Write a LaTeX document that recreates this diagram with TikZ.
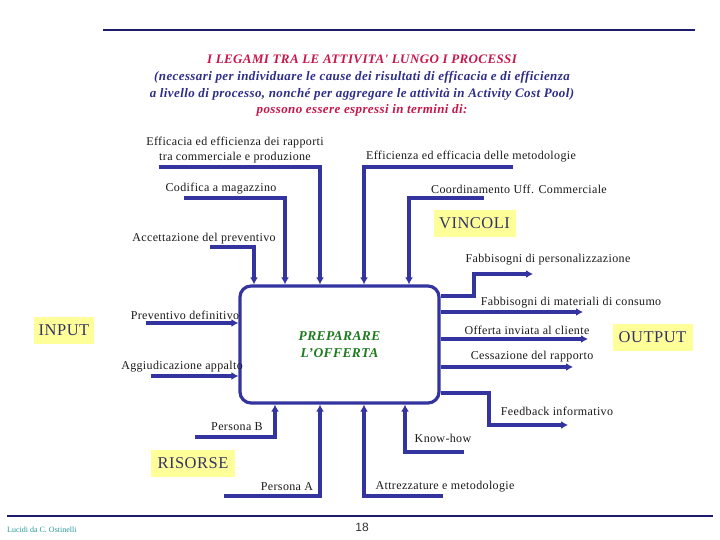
\documentclass[tikz,border=0pt]{standalone}
\usepackage{fontspec}
\setmainfont{Liberation Serif}
\newfontfamily\lblfont[LetterSpace=3]{Liberation Serif}
\newfontfamily\numfont{Liberation Sans}
\usetikzlibrary{arrows.meta}
\definecolor{linkblue}{HTML}{3434A0}
\definecolor{rulenavy}{HTML}{1C1C6E}
\definecolor{ttlred}{HTML}{C8174A}
\definecolor{ttlnavy}{HTML}{2E2E8A}
\definecolor{procgreen}{HTML}{1F7A1F}
\definecolor{tagyellow}{HTML}{FFFF99}
\definecolor{tagtext}{HTML}{333366}
\definecolor{lbltext}{HTML}{1A1A1A}
\definecolor{footteal}{HTML}{2A9A9A}

\begin{document}
\begin{tikzpicture}[x=1pt, y=-1pt,
  lbl/.style={font=\lblfont\fontsize{12}{15}\selectfont, text=lbltext, inner sep=0pt, align=center},
  tag/.style={fill=tagyellow, font=\lblfont\fontsize{16.5}{18}\selectfont, text=tagtext,
              minimum height=27pt, inner sep=0pt},
  proc/.style={draw=linkblue, line width=3.2pt, rounded corners=11pt, minimum width=199pt,
               minimum height=117pt, align=center, text=procgreen,
               font=\lblfont\bfseries\itshape\fontsize{13.5}{17}\selectfont},
  link/.style={draw=linkblue, line width=3.2pt},
  arr/.style={link, -{Latex[length=7pt,width=8pt]}},
  rule/.style={draw=rulenavy, line width=2.8pt}
]
  \fill[white] (0,0) rectangle (720,540);
  \useasboundingbox (0,0) rectangle (720,540);

  % Rules
  \coordinate (topL) at (103,30);
  \coordinate (topR) at (695,30);
  \coordinate (botL) at (7,516);
  \coordinate (botR) at (713,516);
  \draw[rule] (topL) -- (topR);
  \draw[rule] (botL) -- (botR);

  % Title
  \node[align=center, font=\lblfont\bfseries\itshape\fontsize{13}{16.7}\selectfont] (title) at (362,86)
    {\textcolor{ttlred}{I LEGAMI TRA LE ATTIVITA' LUNGO I PROCESSI}\\
     \textcolor{ttlnavy}{(necessari per individuare le cause dei risultati di efficacia e di efficienza}\\
     \textcolor{ttlnavy}{a livello di processo, nonché per aggregare le attività in Activity Cost Pool)}\\
     \textcolor{ttlred}{possono essere espressi in termini di:}};

  % Process
  \node[proc] (proc) at (339.5,344.5) {PREPARARE\\L’OFFERTA};

  % Tags
  \node[tag, minimum width=82pt] (vinc) at (474.5,223.5) {VINCOLI};
  \node[tag, minimum width=60pt] (inp) at (64,330.5) {INPUT};
  \node[tag, minimum width=80pt] (outp) at (652.5,337.5) {OUTPUT};
  \node[tag, minimum width=84pt] (ris) at (193,463.5) {RISORSE};

  % Constraints (top)
  \node[lbl] (effrap) at (235,150)
    {Efficacia ed efficienza dei rapporti\\tra commerciale e produzione};
  \node[lbl] (effmet) at (471,157) {Efficienza ed efficacia delle metodologie};
  \node[lbl] (codmag) at (221,189) {Codifica a magazzino};
  \node[lbl] (coord) at (519,189) {Coordinamento Uff. Commerciale};
  \node[lbl] (accprev) at (204,239) {Accettazione del preventivo};

  \coordinate (effrapS) at (159,167);  \coordinate (effrapK) at (320,167);
  \coordinate (effmetS) at (513,167);  \coordinate (effmetK) at (364,167);
  \coordinate (codmagS) at (184,198);  \coordinate (codmagK) at (285,198);
  \coordinate (coordS) at (484,198);   \coordinate (coordK) at (409,198);
  \coordinate (accprevS) at (210,247); \coordinate (accprevK) at (254,247);

  \draw[arr] (effrapS) -- (effrapK) -- (effrapK |- proc.north);
  \draw[arr] (effmetS) -- (effmetK) -- (effmetK |- proc.north);
  \draw[arr] (codmagS) -- (codmagK) -- (codmagK |- proc.north);
  \draw[arr] (coordS) -- (coordK) -- (coordK |- proc.north);
  \draw[arr] (accprevS) -- (accprevK) -- (accprevK |- proc.north);

  % Inputs
  \node[lbl] (prevdef) at (185,315) {Preventivo definitivo};
  \node[lbl] (aggiud) at (182,367) {Aggiudicazione appalto};
  \coordinate (prevdefS) at (146,323);
  \coordinate (aggiudS) at (151,376);
  \draw[arr] (prevdefS) -- (prevdefS -| proc.west);
  \draw[arr] (aggiudS) -- (aggiudS -| proc.west);

  % Outputs
  \node[lbl] (fabpers) at (548,260) {Fabbisogni di personalizzazione};
  \node[lbl] (fabmat) at (571,303) {Fabbisogni di materiali di consumo};
  \node[lbl] (offinv) at (527,330) {Offerta inviata al cliente};
  \node[lbl] (cess) at (532,357) {Cessazione del rapporto};
  \node[lbl] (feedb) at (557,411) {Feedback informativo};

  \coordinate (fabpersK) at (474,296); \coordinate (fabpersE) at (533,274);
  \coordinate (fabmatE) at (583,312);
  \coordinate (offinvE) at (588,339);
  \coordinate (cessE) at (573,367);
  \coordinate (feedbK) at (489,393);   \coordinate (feedbE) at (568,425);

  \draw[arr] (proc.east |- fabpersK) -- (fabpersK) |- (fabpersE);
  \draw[arr] (proc.east |- fabmatE) -- (fabmatE);
  \draw[arr] (proc.east |- offinvE) -- (offinvE);
  \draw[arr] (proc.east |- cessE) -- (cessE);
  \draw[arr] (proc.east |- feedbK) -- (feedbK) |- (feedbE);

  % Resources (bottom)
  \node[lbl] (persb) at (237,427) {Persona B};
  \node[lbl] (knowh) at (443,438) {Know-how};
  \node[lbl] (persa) at (287,487) {Persona A};
  \node[lbl] (attr) at (445,487) {Attrezzature e metodologie};

  \coordinate (persbS) at (195,437); \coordinate (persbK) at (275,437);
  \coordinate (persaS) at (224,496); \coordinate (persaK) at (320,496);
  \coordinate (attrS) at (443,496);  \coordinate (attrK) at (364,496);
  \coordinate (knowhS) at (464,452); \coordinate (knowhK) at (405,452);

  \draw[arr] (persbS) -- (persbK) -- (persbK |- proc.south);
  \draw[arr] (persaS) -- (persaK) -- (persaK |- proc.south);
  \draw[arr] (attrS) -- (attrK) -- (attrK |- proc.south);
  \draw[arr] (knowhS) -- (knowhK) -- (knowhK |- proc.south);

  % Footer
  \node[font=\numfont\fontsize{12}{14}\selectfont, text=black!80] (pagenum) at (362,527) {18};
  \node[anchor=west, inner sep=0pt, font=\fontsize{8}{10}\selectfont, text=footteal] (credit) at (7,530)
    {Lucidi da C. Ostinelli};
\end{tikzpicture}
\end{document}
